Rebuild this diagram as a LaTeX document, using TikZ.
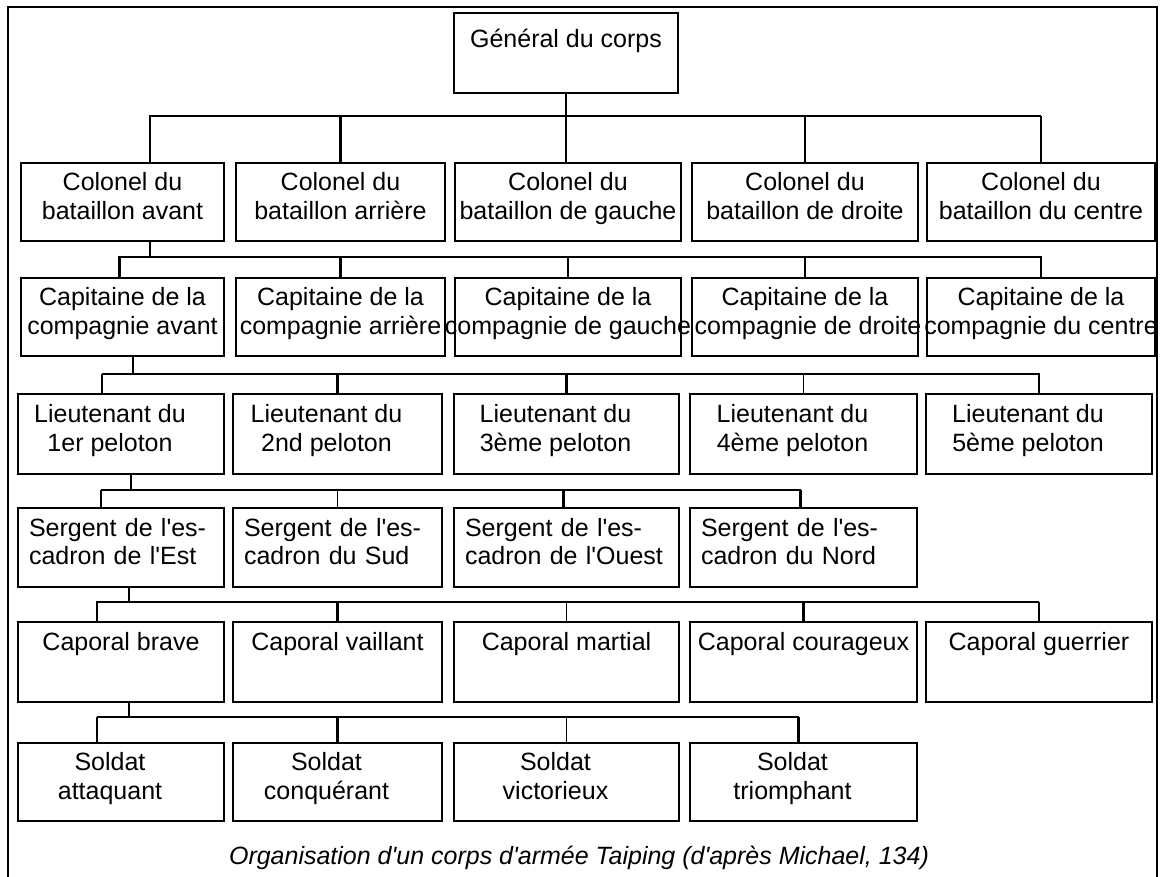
\documentclass[tikz,border=0pt]{standalone}
\usepackage{fontspec}
\setmainfont{Liberation Sans}[Ligatures=TeXOff]
\usetikzlibrary{calc}
\newcommand\lowend{\rule[-12pt]{0pt}{12pt}}

\begin{document}
\begin{tikzpicture}[x=1pt,y=-1pt,
  unit/.style={draw,line width=2pt,inner sep=0pt,anchor=north west,align=center,font=\fontsize{25}{28.5}\selectfont},
  lunit/.style={unit,align=left,inner xsep=11pt},
  link/.style={line width=2.4pt},
  thinlink/.style={line width=1.3pt}]
\useasboundingbox (0,0) rectangle (1163,877);
\draw[line width=2.4pt] (8,7) rectangle (1157,900);

% boxes, row by row
\node[unit,minimum width=224,minimum height=80] (gen) at (453,12) {Général du corps\\\mbox{}};
\foreach \x/\w/\t [count=\i] in {20/203/{Colonel du\\bataillon avant},235/209/{Colonel du\\bataillon arrière},
  454/226/{Colonel du\\\makebox[0pt]{bataillon de gauche}},691/226/{Colonel du\\bataillon de droite},926/228/{Colonel du\\bataillon du centre}}
  \node[unit,minimum width=\w,minimum height=78] (col\i) at (\x,162) {\t\lowend};
\foreach \x/\w/\t [count=\i] in {20/203/{Capitaine de la\\compagnie avant},235/209/{Capitaine de la\\compagnie arrière},
  454/226/{Capitaine de la\\\makebox[0pt]{compagnie de gauche}},691/226/{Capitaine de la\\\makebox[0pt]{\hspace{6pt}compagnie de droite}},
  926/228/{Capitaine de la\\\makebox[0pt]{compagnie du centre}}}
  \node[unit,minimum width=\w,minimum height=78] (cap\i) at (\x,277) {\t\lowend};
\foreach \x/\w/\n [count=\i] in {17/206/1er,232/209/2nd,453/225/3ème,689/227/4ème,925/226/5ème}
  \node[unit,minimum width=\w,minimum height=80] (lieu\i) at (\x,393) {Lieutenant du\hspace*{22pt}\\\n\ peloton\hspace*{22pt}\lowend};
\foreach \x/\w/\t [count=\i, evaluate=\w as \tw using \w-22] in {17/206/{Sergent de l'es-\\cadron de l'Est},232/209/{Sergent de l'es-\\cadron du Sud},
  453/225/{Sergent de l'es-\\cadron de l'Ouest},689/227/{Sergent de l'es-\\cadron du Nord}}
  \node[lunit,text width=\tw pt,minimum height=79] (serg\i) at (\x,507) {\t\lowend};
\foreach \x/\w/\t [count=\i] in {17/206/{Caporal brave},232/209/{Caporal vaillant},453/225/{Caporal martial},
  689/227/{Caporal courageux},925/226/{Caporal guerrier}}
  \node[unit,minimum width=\w,minimum height=80] (capo\i) at (\x,621) {\t\\\lowend};
\foreach \x/\w/\t [count=\i] in {17/206/attaquant,232/209/conquérant,453/225/victorieux,689/227/triomphant}
  \node[unit,minimum width=\w,minimum height=78] (sold\i) at (\x,742) {Soldat\hspace*{22pt}\\\t\hspace*{22pt}\lowend};

% buses
\coordinate (bus1) at (0,116);
\coordinate (bus2) at (0,257);
\coordinate (bus3) at (0,374);
\coordinate (bus4) at (0,490);
\coordinate (bus5) at (0,602);
\coordinate (bus6) at (0,717);

% general -> colonels
\draw[thinlink] (gen.south) -- (gen.south |- col3.north);
\draw[link] ([xshift=27.5pt]col1.north) |- (col5.north |- bus1);
\draw[thinlink] (col5.north |- bus1) -- (col5.north);
\foreach \i in {2,4} \draw[link] (col\i.north) -- (col\i.north |- bus1);

% colonels -> capitaines
\draw[link] ([xshift=27.5pt]col1.south) -- ([xshift=27.5pt]col1.south |- bus2);
\draw[link] ([xshift=-3pt]cap1.north) |- (cap5.north |- bus2) -- (cap5.north);
\foreach \i in {2,3} \draw[link] (cap\i.north) -- (cap\i.north |- bus2);
\draw[thinlink] (cap4.north) -- (cap4.north |- bus2);

% capitaines -> lieutenants
\draw[link] ([xshift=10.5pt]cap1.south) -- ([xshift=10.5pt]cap1.south |- bus3);
\draw[link] ([xshift=-19pt]lieu1.north |- bus3) -| (lieu5.north);
\draw[thinlink] ([xshift=-19pt]lieu1.north) -- ([xshift=-19pt]lieu1.north |- bus3);
\foreach \i in {2,3} \draw[link] (lieu\i.north) -- (lieu\i.north |- bus3);
\draw[thinlink] (lieu4.north) -- (lieu4.north |- bus3);

% lieutenants -> sergents
\draw[thinlink] ([xshift=10pt]lieu1.south) -- ([xshift=10pt]lieu1.south |- bus4);
\draw[thinlink] ([xshift=-20pt]serg1.north |- bus4) -- ([xshift=-3pt]serg4.north |- bus4);
\draw[link] ([xshift=-20pt]serg1.north) -- ([xshift=-20pt]serg1.north |- bus4);
\draw[link] ([xshift=-3pt]serg4.north) -- ([xshift=-3pt]serg4.north |- bus4);
\draw[thinlink] (serg2.north) -- (serg2.north |- bus4);
\draw[link] ([xshift=-3pt]serg3.north) -- ([xshift=-3pt]serg3.north |- bus4);

% sergents -> caporaux
\draw[link] ([xshift=8pt]serg1.south) -- ([xshift=8pt]serg1.south |- bus5);
\draw[link] ([xshift=-24pt]capo1.north) |- (capo5.north |- bus5);
\draw[thinlink] (capo5.north |- bus5) -- (capo5.north);
\foreach \i in {2,4} \draw[link] (capo\i.north) -- (capo\i.north |- bus5);
\draw[thinlink] (capo3.north) -- (capo3.north |- bus5);

% caporaux -> soldats
\draw[link] ([xshift=8pt]capo1.south) -- ([xshift=8pt]capo1.south |- bus6);
\draw[thinlink] ([xshift=-24pt]sold1.north |- bus6) -- ([xshift=-5pt]sold4.north |- bus6);
\draw[link] ([xshift=-24pt]sold1.north) -- ([xshift=-24pt]sold1.north |- bus6);
\draw[link] ([xshift=-5pt]sold4.north) -- ([xshift=-5pt]sold4.north |- bus6);
\draw[link] (sold2.north) -- (sold2.north |- bus6);
\draw[thinlink] (sold3.north) -- (sold3.north |- bus6);

\node[font=\itshape\fontsize{25}{30}\selectfont,anchor=base] (caption) at (579,864) {Organisation d'un corps d'armée Taiping (d'après Michael, 134)};
\end{tikzpicture}
\end{document}
